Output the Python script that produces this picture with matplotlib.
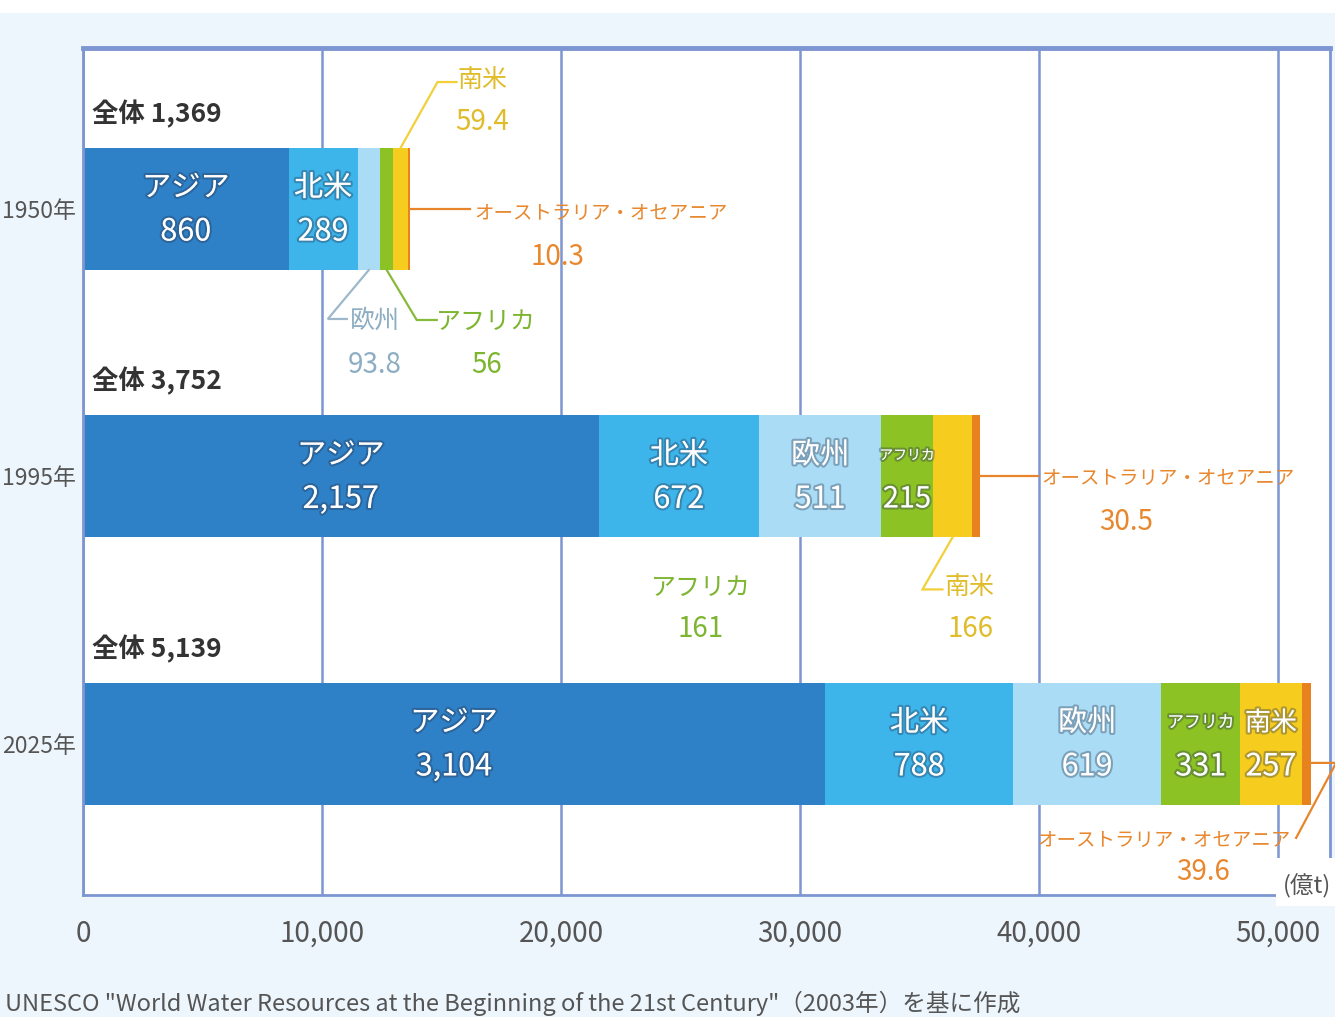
import matplotlib
matplotlib.use('Agg')
import numpy as np
import matplotlib.pyplot as plt
import matplotlib.patheffects as pe
from matplotlib.patches import Rectangle

# 地域別の水使用量 (km3) -- グラフ上は億t (x10) で描く
years = ['1950年', '1995年', '2025年']
regions = ['アジア', '北米', '欧州', 'アフリカ', '南米', 'オーストラリア・オセアニア']
asia = [860, 2157, 3104]
north_america = [289, 672, 788]
europe = [93.8, 511, 619]
africa = [56, 215, 331]
south_america = [59.4, 166, 257]
oceania = [10.3, 30.5, 39.6]
totals = [1369, 3752, 5139]
africa_note = 161
UNIT = 10

xticks = [0, 10000, 20000, 30000, 40000, 50000]

colors = ['#2E81C7', '#3DB5EB', '#AADDF5', '#8CC224', '#F6CD1E', '#E8821F']
FRAME = '#7D96D1'
BG = '#EEF6FD'

plt.rcParams['font.family'] = ['Noto Sans CJK JP', 'DejaVu Sans']

W, H = 1335, 1017
fig = plt.figure(figsize=(W / 100, H / 100), dpi=100, facecolor=BG)
fig.patches.append(Rectangle((0, 1 - 13 / H), 1, 13 / H, transform=fig.transFigure,
                             facecolor='white', edgecolor='none', zorder=0))

AX_L, AX_R, AX_T, AX_B = 83, 1330, 48, 895
ax = fig.add_axes([AX_L / W, 1 - AX_B / H, (AX_R - AX_L) / W, (AX_B - AX_T) / H])
XMAX = 52176
Y0, Y1 = 2.565, -0.602
ax.set_xlim(0, XMAX)
ax.set_ylim(Y0, Y1)
px_x = XMAX / (AX_R - AX_L)
px_y = (Y0 - Y1) / (AX_B - AX_T)


def off(x, y, dxp, dyp):
    return x + dxp * px_x, y + dyp * px_y


def fmt(v):
    return f'{int(v):,}' if float(v).is_integer() else f'{v}'


# stacked bars
series = np.array([asia, north_america, europe, africa, south_america, oceania], dtype=float) * UNIT
ypos = np.arange(len(years))
BAR_H = 0.456
starts = np.vstack([np.zeros(len(years)), np.cumsum(series, axis=0)[:-1]])
ends = starts[-1] + series[-1]
for i, vals in enumerate(series):
    ax.barh(ypos, vals, left=starts[i], height=BAR_H, color=colors[i],
            edgecolor='none', zorder=2)

ax.set_xticks(xticks, [f'{t:,}' for t in xticks])
ax.set_yticks(ypos, years)
ax.tick_params(axis='x', length=0, pad=17, labelsize=20, labelcolor='#555555')
ax.tick_params(axis='y', length=0, pad=5, labelsize=16.5, labelcolor='#555555')
ax.grid(axis='x', color=FRAME, lw=1.8)
ax.set_axisbelow(True)
for s in ax.spines.values():
    s.set_color(FRAME)
    s.set_linewidth(2)
ax.spines['top'].set_linewidth(3.5)

# totals above each bar
for r, t in enumerate(totals):
    x, y = off(0, r, 9, -95)
    ax.text(x, y, f'全体 {t:,}', fontsize=19, fontweight='bold', color='#333333',
            ha='left', va='center')

# labels inside the wide segments
inside = [[0, 1], [0, 1, 2, 3], [0, 1, 2, 3, 4]]
halo = [pe.withStroke(linewidth=3, foreground=(0.15, 0.2, 0.3, 0.35))]
for r, idx in enumerate(inside):
    for i in idx:
        v = series[i][r]
        cx = starts[i][r] + v / 2
        seg_px = v / px_x
        name = regions[i]
        fs_name = max(10, min(21, 0.85 * seg_px / (len(name) * 1.389)))
        fs_val = min(22, 0.95 * seg_px / (len(fmt(v / UNIT)) * 0.78))
        x, y = off(cx, r, 0, -21)
        ax.text(x, y, name, fontsize=fs_name, color='white', ha='center', va='center',
                path_effects=halo, zorder=4)
        x, y = off(cx, r, 0, 23)
        ax.text(x, y, fmt(v / UNIT), fontsize=fs_val, color='white', ha='center',
                va='center', path_effects=halo, zorder=4)


def callout(x0, y0, path_px, name_px, value_px, name, value, color, line_color,
            ha='center', fs_name=18, fs_val=20):
    pts = [off(x0, y0, dx, dy) for dx, dy in path_px]
    xs, ys = zip(*pts)
    ax.plot(xs, ys, color=line_color, lw=1.6, clip_on=False, zorder=3,
            solid_joinstyle='miter')
    tx, ty = off(x0, y0, *name_px)
    ax.text(tx, ty, name, fontsize=fs_name, color=color, ha=ha, va='center', zorder=4)
    tx, ty = off(x0, y0, *value_px)
    ax.text(tx, ty, fmt(value), fontsize=fs_val, color=color, ha='center',
            va='center', zorder=4)


def mid(i, r):
    return starts[i][r] + series[i][r] / 2


top, bot = -BAR_H / 2, BAR_H / 2
OC_TXT, OC_LINE = '#E8872D', '#E8852A'
SA_TXT, SA_LINE = '#E0BC2A', '#F2D03A'
AF_TXT, AF_LINE = '#7DB530', '#86BB3A'
EU_TXT, EU_LINE = '#8DADC3', '#9CB8CA'

# 1950
callout(mid(4, 0), 0 + top, [(0, 0), (37, -66), (56, -66)], (82, -67), (82, -26),
        regions[4], south_america[0], SA_TXT, SA_LINE)
callout(ends[0], 0, [(0, 0), (60, 0)], (64, 4), (147, 48),
        regions[5], oceania[0], OC_TXT, OC_LINE, ha='left', fs_name=14)
callout(mid(2, 0), 0 + bot, [(0, 0), (-41, 49), (-22, 49)], (6, 51), (6, 95),
        regions[2], europe[0], EU_TXT, EU_LINE)
callout(mid(3, 0), 0 + bot, [(0, 0), (30, 50), (50, 50)], (99, 52), (100, 95),
        regions[3], africa[0], AF_TXT, AF_LINE)

# 1995
callout(mid(4, 1), 1 + bot, [(0, 0), (-30, 52), (-10, 52)], (17, 51), (18, 92),
        regions[4], south_america[1], SA_TXT, SA_LINE)
callout(ends[1], 1, [(0, 0), (58, 0)], (62, 2), (146, 46),
        regions[5], oceania[1], OC_TXT, OC_LINE, ha='left', fs_name=14)
x, y = off(0, 1, 618, 112)
ax.text(x, y, regions[3], fontsize=18, color=AF_TXT, ha='center', va='center')
x, y = off(0, 1, 618, 153)
ax.text(x, y, fmt(africa_note), fontsize=20, color=AF_TXT, ha='center', va='center')

# 2025
callout(ends[2], 2, [(0, 19), (25, 19), (-15, 94)], (-20, 97), (-108, 128),
        regions[5], oceania[2], OC_TXT, OC_LINE, ha='right', fs_name=14)

# unit label in the lower right corner
fig.patches.append(Rectangle((1276 / W, 1 - 906 / H), (W - 1276) / W, (906 - 858) / H,
                             transform=fig.transFigure, facecolor='white',
                             edgecolor='none', zorder=2))
fig.text(1307 / W, 1 - 886 / H, '(億t)', fontsize=17, color='#555555',
         ha='center', va='center', zorder=3)

fig.text(5 / W, 1 - 991 / H,
         'UNESCO "World Water Resources at the Beginning of the 21st Century"（2003年）を基に作成',
         fontsize=17, color='#555555', ha='left', va='top')

fig.savefig('out.png', dpi=100, facecolor=BG)
